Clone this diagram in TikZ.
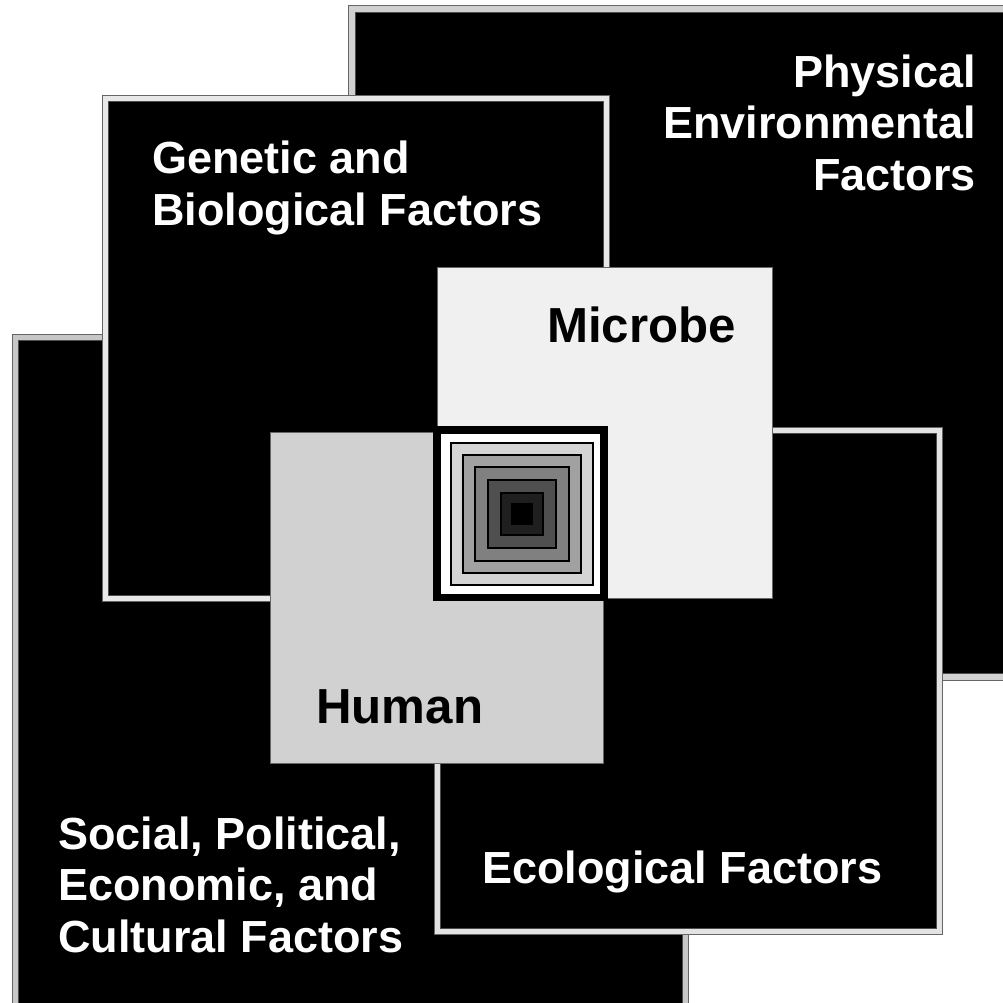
\documentclass[tikz,border=0pt]{standalone}
\usepackage{fontspec}
\setmainfont{Liberation Sans}

\begin{document}
\begin{tikzpicture}[x=0.025cm,y=-0.025cm,
  rim/.style={draw=black!60,line width=0.7pt},
  factor/.style={draw=black!70,line width=0.7pt,fill=black},
  factortext/.style={inner sep=0pt,text=white,font=\fontsize{32}{36.6}\selectfont\bfseries},
  hosttext/.style={inner sep=0pt,text=black,font=\fontsize{35}{40}\selectfont\bfseries}]
\useasboundingbox (0,0) rectangle (1003,1002);
\clip (0,0) rectangle (1003,1002);

\draw[rim,fill=black!18] (348,5) rectangle (1012,680);
\draw[factor] (355,12) rectangle (1012,673);

\draw[rim,fill=black!22] (12,334) rectangle (688,1012);
\draw[factor] (18,340) rectangle (682,1012);

\draw[rim,fill=black!9] (102,95) rectangle (609,601);
\draw[factor] (108,101) rectangle (603,595);

\draw[rim,fill=black!11] (434,427) rectangle (942,934);
\draw[factor] (440,433) rectangle (936,928);

\draw[rim,fill=black!6] (437,267) rectangle (772,598);
\draw[rim,fill=black!18] (270,432) rectangle (603,763);

\draw[line width=5pt,fill=white] (437,430) rectangle (604,597);
\foreach \h/\g in {71/17,59/37,47/50,34/69,21/88,10/100}
  \draw[line width=1pt,fill=black!\g] (522-\h,514-\h) rectangle (522+\h,514+\h);

\node[factortext,align=right,anchor=base east] (physical) at (976,190) {Physical\\Environmental\\Factors};
\node[factortext,align=left,anchor=base west] (genetic) at (152,225) {Genetic and\\Biological Factors};
\node[factortext,align=left,anchor=base west] (social) at (58,952) {Social, Political,\\Economic, and\\Cultural Factors};
\node[factortext,anchor=base west] (ecological) at (482,883) {Ecological Factors};
\node[hosttext,anchor=base west] (microbe) at (547,342) {Microbe};
\node[hosttext,anchor=base west] (human) at (316,723) {Human};
\end{tikzpicture}
\end{document}
